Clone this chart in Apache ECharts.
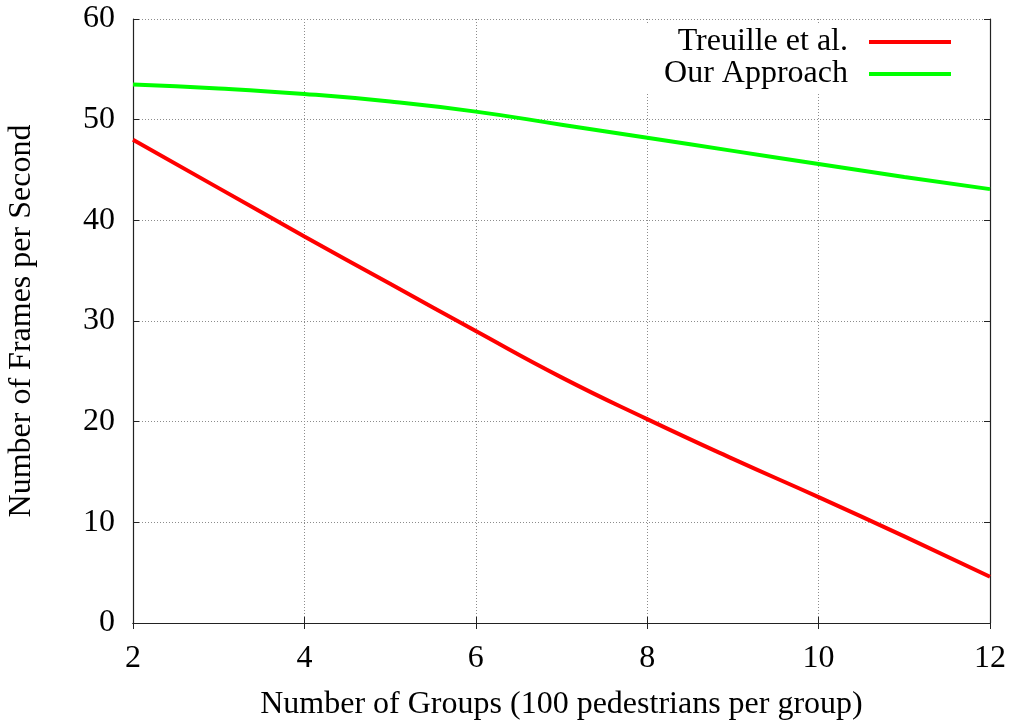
<!DOCTYPE html>
<html>
<head>
<meta charset="utf-8">
<script src="https://cdn.jsdelivr.net/npm/echarts@6/dist/echarts.min.js"></script>
<style>
html,body{margin:0;padding:0;background:#fff;}
#chart{width:1012px;height:722px;}
</style>
</head>
<body>
<div id="chart"></div>
<script>
const groups = [2, 3, 4, 5, 6, 7, 8, 9, 10, 11, 12];
const treuille = [48.0, 43.2, 38.4, 33.7, 29.0, 24.4, 20.25, 16.3, 12.5, 8.6, 4.6];
const ourApproach = [53.5, 53.1, 52.55, 51.8, 50.8, 49.5, 48.2, 46.9, 45.6, 44.3, 43.1];
const seriesNames = ['Treuille et al.', 'Our Approach'];
const xTitle = 'Number of Groups (100 pedestrians per group)';
const yTitle = 'Number of Frames per Second';

const font = "'Liberation Serif', 'DejaVu Serif', serif";
const fs = 32;
const gridLine = { show: true, lineStyle: { color: '#8c8c8c', width: 1, type: [1, 2] } };
const border = { show: true, lineStyle: { color: '#222', width: 1.2 } };

const chart = echarts.init(document.getElementById('chart'));
chart.setOption({
  animation: false,
  backgroundColor: '#fff',
  grid: { left: 133, right: 22, top: 19, bottom: 99, outerBoundsMode: 'none', containLabel: false },
  legend: {
    orient: 'vertical',
    right: 25,
    top: 23,
    align: 'right',
    backgroundColor: '#fff',
    padding: [3, 36, 4, 24],
    itemGap: 0,
    icon: 'rect',
    itemWidth: 82,
    itemHeight: 4,
    textStyle: { fontFamily: font, fontSize: fs, color: '#000', lineHeight: 32, padding: [0, 16, 0, 0] },
    data: seriesNames
  },
  xAxis: [{
    type: 'value', min: 2, max: 12, interval: 2,
    name: xTitle, nameLocation: 'middle', nameGap: 66,
    nameTextStyle: { fontFamily: font, fontSize: fs, color: '#000' },
    axisLine: border,
    axisTick: { show: true, inside: true, length: 6, lineStyle: { color: '#222' } },
    axisLabel: { fontFamily: font, fontSize: fs, color: '#000', margin: 20 },
    splitLine: gridLine
  }, {
    type: 'value', min: 2, max: 12, interval: 2, position: 'top',
    axisLine: border,
    axisTick: { show: true, inside: true, length: 6, lineStyle: { color: '#222' } },
    axisLabel: { show: false },
    splitLine: { show: false }
  }],
  yAxis: [{
    type: 'value', min: 0, max: 60, interval: 10,
    name: yTitle, nameLocation: 'middle', nameGap: 95,
    nameTextStyle: { fontFamily: font, fontSize: fs, color: '#000' },
    axisLine: border,
    axisTick: { show: true, inside: true, length: 6, lineStyle: { color: '#222' } },
    axisLabel: { fontFamily: font, fontSize: fs, color: '#000', margin: 18 },
    splitLine: gridLine
  }, {
    type: 'value', min: 0, max: 60, interval: 10, position: 'right',
    axisLine: border,
    axisTick: { show: true, inside: true, length: 6, lineStyle: { color: '#222' } },
    axisLabel: { show: false },
    splitLine: { show: false }
  }],
  series: [{
    name: seriesNames[0], type: 'line', smooth: true, symbol: 'none',
    xAxisIndex: 0, yAxisIndex: 0,
    lineStyle: { color: '#ff0000', width: 4 }, itemStyle: { color: '#ff0000' },
    data: groups.map((g, i) => [g, treuille[i]])
  }, {
    name: seriesNames[1], type: 'line', smooth: true, symbol: 'none',
    xAxisIndex: 0, yAxisIndex: 0,
    lineStyle: { color: '#00ff00', width: 4 }, itemStyle: { color: '#00ff00' },
    data: groups.map((g, i) => [g, ourApproach[i]])
  }]
});
</script>
</body>
</html>
